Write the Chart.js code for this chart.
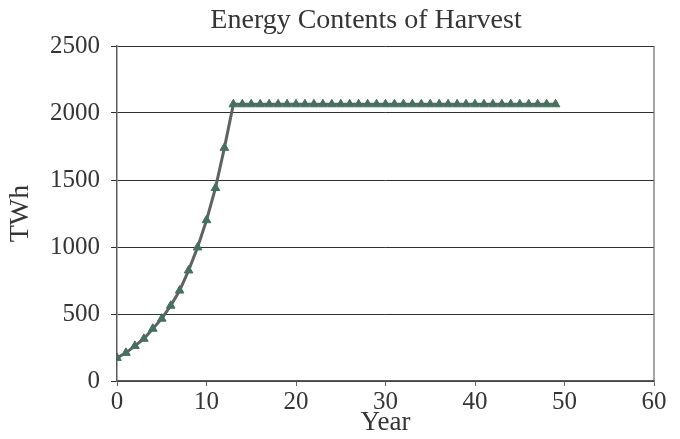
<!DOCTYPE html>
<html>
<head>
<meta charset="utf-8">
<script src="https://cdn.jsdelivr.net/npm/chart.js@4/dist/chart.umd.min.js"></script>
<style>
  html, body { margin: 0; padding: 0; background: #fff; }
  #wrap { width: 680px; height: 439px; }
</style>
</head>
<body>
<div id="wrap"><canvas id="harvestChart"></canvas></div>
<script>
const TITLE = 'Energy Contents of Harvest';
const X_LABEL = 'Year';
const Y_LABEL = 'TWh';

// yearly energy content of the harvest (TWh)
const years = [0, 1, 2, 3, 4, 5, 6, 7, 8, 9, 10, 11, 12, 13,
    14, 15, 16, 17, 18, 19, 20, 21, 22, 23, 24, 25, 26, 27, 28, 29, 30, 31,
    32, 33, 34, 35, 36, 37, 38, 39, 40, 41, 42, 43, 44, 45, 46, 47, 48, 49];
const energyTWh = [172, 210, 262, 315, 390, 465, 562, 675, 825, 997, 1200, 1440, 1740, 2065,
    2065, 2065, 2065, 2065, 2065, 2065, 2065, 2065, 2065, 2065, 2065, 2065, 2065, 2065, 2065, 2065, 2065, 2065,
    2065, 2065, 2065, 2065, 2065, 2065, 2065, 2065, 2065, 2065, 2065, 2065, 2065, 2065, 2065, 2065, 2065, 2065];

const xTicks = [0, 10, 20, 30, 40, 50, 60];
const yTicks = [0, 500, 1000, 1500, 2000, 2500];

const FONT = 'Liberation Serif, Times New Roman, serif';
const INK = '#353535';

// title sits a little left of the plot centre, and the plot gets a right-hand frame line
const framePlugin = {
    id: 'frame',
    afterDraw(chart) {
        const { ctx, chartArea: a } = chart;
        ctx.save();
        ctx.strokeStyle = '#6b6b6b';
        ctx.lineWidth = 1.2;
        ctx.beginPath();
        ctx.moveTo(a.right, a.top);
        ctx.lineTo(a.right, a.bottom);
        ctx.stroke();

        ctx.fillStyle = INK;
        ctx.font = '28px ' + FONT;
        ctx.textAlign = 'center';
        ctx.textBaseline = 'middle';
        ctx.fillText(TITLE, 366, 21);
        ctx.restore();
    }
};

new Chart(document.getElementById('harvestChart'), {
    type: 'line',
    data: {
        datasets: [{
            data: years.map((y, i) => ({ x: y, y: energyTWh[i] })),
            borderColor: '#5d6360',
            borderWidth: 3,
            pointStyle: 'triangle',
            pointRadius: 5,
            pointBackgroundColor: '#45705f',
            pointBorderColor: '#45705f',
            pointBorderWidth: 1,
            tension: 0,
            fill: false
        }]
    },
    options: {
        responsive: true,
        maintainAspectRatio: false,
        animation: false,
        layout: { padding: { top: 46, right: 26, left: 0, bottom: 0 } },
        plugins: {
            legend: { display: false },
            title: { display: false },
            tooltip: { enabled: false }
        },
        scales: {
            x: {
                type: 'linear',
                min: 0, max: 60,
                afterBuildTicks: s => { s.ticks = xTicks.map(v => ({ value: v })); },
                afterFit: s => { s.height = 58; },
                grid: { drawOnChartArea: false, drawTicks: true, tickLength: 5, color: '#666' },
                border: { color: '#5a5a5a', width: 1.5 },
                ticks: { color: INK, padding: 1, font: { family: FONT, size: 25 }, maxRotation: 0,
                    callback: v => String(v) },
                title: { display: true, text: X_LABEL, color: INK, font: { family: FONT, size: 27 }, padding: { top: 0, bottom: 0 } }
            },
            y: {
                min: 0, max: 2500,
                afterBuildTicks: s => { s.ticks = yTicks.map(v => ({ value: v })); },
                afterFit: s => { s.width = 117; },
                grid: { color: '#303030', lineWidth: 1, tickLength: 6 },
                border: { color: '#5a5a5a', width: 1.5 },
                ticks: { color: INK, padding: 11, font: { family: FONT, size: 25 },
                    callback: v => String(v) },
                title: { display: true, text: Y_LABEL, color: INK, font: { family: FONT, size: 28 }, padding: { top: 4, bottom: 0 } }
            }
        }
    },
    plugins: [framePlugin]
});
</script>
</body>
</html>
